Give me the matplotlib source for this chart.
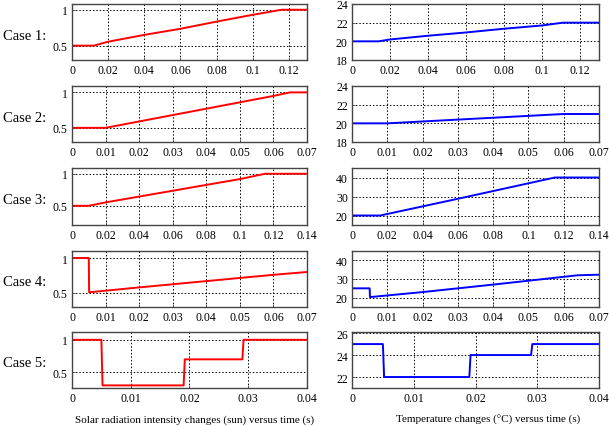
import matplotlib
matplotlib.use("Agg")
import matplotlib.pyplot as plt

plt.rcParams['font.family'] = ['Liberation Serif', 'DejaVu Serif']

W, H = 609, 427

case_labels = ["Case 1:", "Case 2:", "Case 3:", "Case 4:", "Case 5:"]

# Solar radiation (sun)
sun_t1 = [0, 0.012, 0.02, 0.04, 0.06, 0.08, 0.1, 0.116, 0.13]
sun_v1 = [0.5, 0.5, 0.555, 0.65, 0.735, 0.835, 0.93, 1.0, 1.0]
sun_t2 = [0, 0.01, 0.02, 0.03, 0.04, 0.05, 0.06, 0.065, 0.07]
sun_v2 = [0.5, 0.5, 0.59, 0.68, 0.77, 0.86, 0.95, 1.0, 1.0]
sun_t3 = [0, 0.01, 0.02, 0.06, 0.1, 0.115, 0.14]
sun_v3 = [0.5, 0.5, 0.553, 0.735, 0.917, 1.0, 1.0]
sun_t4 = [0, 0.005, 0.0051, 0.02, 0.04, 0.06, 0.07]
sun_v4 = [1.0, 1.0, 0.51, 0.58, 0.67, 0.76, 0.80]
sun_t5 = [0, 0.005, 0.0052, 0.019, 0.0192, 0.029, 0.0292, 0.04]
sun_v5 = [1.0, 1.0, 0.3, 0.3, 0.7, 0.7, 1.0, 1.0]

# Temperature (°C)
tmp_t1 = [0, 0.014, 0.02, 0.04, 0.06, 0.08, 0.1, 0.111, 0.13]
tmp_v1 = [20, 20, 20.2, 20.6, 20.95, 21.35, 21.7, 22, 22]
tmp_t2 = [0, 0.01, 0.02, 0.03, 0.04, 0.05, 0.06, 0.07]
tmp_v2 = [20, 20, 20.2, 20.4, 20.6, 20.8, 21, 21]
tmp_t3 = [0, 0.016, 0.06, 0.115, 0.14]
tmp_v3 = [20, 20, 28.8, 40, 40]
tmp_t4 = [0, 0.005, 0.0051, 0.02, 0.04, 0.064, 0.07]
tmp_v4 = [25, 25, 20.3, 23, 27, 32, 32.3]
tmp_t5 = [0, 0.005, 0.0052, 0.019, 0.0192, 0.029, 0.0292, 0.04]
tmp_v5 = [25, 25, 22, 22, 24, 24, 25, 25]

sun_series = [(sun_t1, sun_v1), (sun_t2, sun_v2), (sun_t3, sun_v3), (sun_t4, sun_v4), (sun_t5, sun_v5)]
tmp_series = [(tmp_t1, tmp_v1), (tmp_t2, tmp_v2), (tmp_t3, tmp_v3), (tmp_t4, tmp_v4), (tmp_t5, tmp_v5)]

xlims = [0.13, 0.07, 0.14, 0.07, 0.04]
xticks = [
    [0, 0.02, 0.04, 0.06, 0.08, 0.1, 0.12],
    [0, 0.01, 0.02, 0.03, 0.04, 0.05, 0.06, 0.07],
    [0, 0.02, 0.04, 0.06, 0.08, 0.1, 0.12, 0.14],
    [0, 0.01, 0.02, 0.03, 0.04, 0.05, 0.06, 0.07],
    [0, 0.01, 0.02, 0.03, 0.04],
]
xticklabels = [
    ["0", "0.02", "0.04", "0.06", "0.08", "0.1", "0.12"],
    ["0", "0.01", "0.02", "0.03", "0.04", "0.05", "0.06", "0.07"],
    ["0", "0.02", "0.04", "0.06", "0.08", "0.1", "0.12", "0.14"],
    ["0", "0.01", "0.02", "0.03", "0.04", "0.05", "0.06", "0.07"],
    ["0", "0.01", "0.02", "0.03", "0.04"],
]
sun_ylims = [(0.3, 1.08), (0.3, 1.09), (0.2, 1.09), (0.3, 1.1), (0.26, 1.12)]
sun_yticks = [[0.5, 1], [0.5, 1], [0.5, 1], [0.5, 1], [0.5, 1]]
sun_yticklabels = [["0.5", "1"]] * 5
tmp_ylims = [(18, 24), (18, 24), (15, 45), (15, 45), (21, 26.1)]
tmp_yticks = [[18, 20, 22, 24], [18, 20, 22, 24], [20, 30, 40], [20, 30, 40], [22, 24, 26]]

rows_px = [(5, 61), (87, 143), (169, 226), (252, 308), (333, 389)]
left_px = (72, 307)
right_px = (352, 599)

fig = plt.figure(figsize=(W / 100, H / 100), dpi=100)


def style(ax):
    ax.grid(True, color='black', linestyle=(0, (1.5, 2)), linewidth=0.7)
    for s in ax.spines.values():
        s.set_color('#444444')
        s.set_linewidth(1.0)
    ax.tick_params(direction='in', length=2.5, width=0.6, labelsize=8.5,
                   colors='#444444', labelcolor='black', pad=3)


for i in range(5):
    top, bot = rows_px[i]
    y0 = 1 - bot / H
    h = (bot - top) / H
    axl = fig.add_axes([left_px[0] / W, y0, (left_px[1] - left_px[0]) / W, h])
    axr = fig.add_axes([right_px[0] / W, y0, (right_px[1] - right_px[0]) / W, h])

    t, v = sun_series[i]
    axl.plot(t, v, color='#ff0000', linewidth=1.4)
    axl.set_xlim(0, xlims[i])
    axl.set_ylim(*sun_ylims[i])
    axl.set_xticks(xticks[i])
    axl.set_xticklabels(xticklabels[i])
    axl.set_yticks(sun_yticks[i])
    axl.set_yticklabels(sun_yticklabels[i])
    style(axl)

    t, v = tmp_series[i]
    axr.plot(t, v, color='#0000ff', linewidth=1.4)
    axr.set_xlim(0, xlims[i])
    axr.set_ylim(*tmp_ylims[i])
    axr.set_xticks(xticks[i])
    axr.set_xticklabels(xticklabels[i])
    axr.set_yticks(tmp_yticks[i])
    axr.set_yticklabels([str(x) for x in tmp_yticks[i]])
    style(axr)

    fig.text(3 / W, 1 - ((top + bot) / 2 + 3) / H, case_labels[i], fontsize=10.5,
             ha='left', va='center')

fig.text(195 / W, 1 - 420 / H, "Solar radiation intensity changes (sun) versus time (s)",
         fontsize=8, ha='center', va='center')
fig.text(488 / W, 1 - 420 / H, "Temperature changes (\u00b0C) versus time (s)",
         fontsize=8, ha='center', va='center')

fig.savefig("out.png", dpi=100)
